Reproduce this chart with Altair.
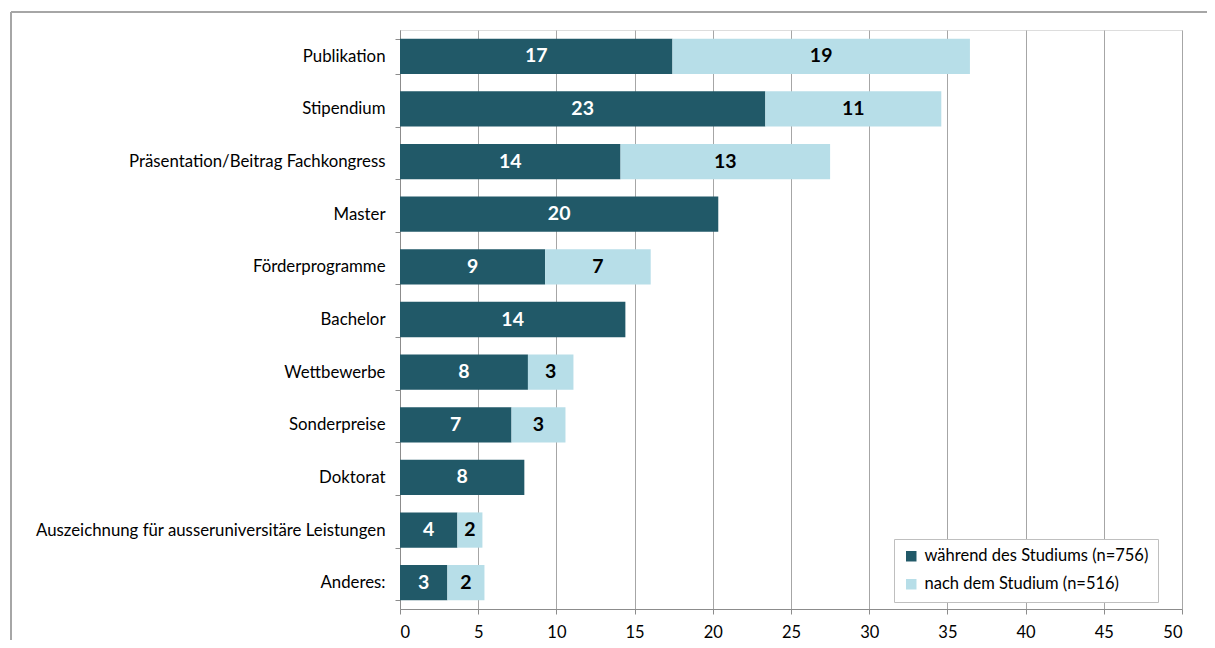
import altair as alt
import pandas as pd

categories = [
    "Publikation",
    "Stipendium",
    "Präsentation/Beitrag Fachkongress",
    "Master",
    "Förderprogramme",
    "Bachelor",
    "Wettbewerbe",
    "Sonderpreise",
    "Doktorat",
    "Auszeichnung für ausseruniversitäre Leistungen",
    "Anderes:",
]
during = [17.42, 23.36, 14.10, 20.35, 9.28, 14.41, 8.18, 7.13, 7.95, 3.67, 3.03]
after = [19.02, 11.25, 13.40, 0.0, 6.75, 0.0, 2.91, 3.45, 0.0, 1.60, 2.37]
series = ["während des Studiums (n=756)", "nach dem Studium (n=516)"]
colors = ["#215968", "#B7DEE8"]
text_colors = ["#ffffff", "#000000"]

rows = []
for c, d, a in zip(categories, during, after):
    for i, (s, v) in enumerate(zip(series, [d, a])):
        if v > 0:
            rows.append({"category": c, "series": s, "value": v, "order": i,
                         "label": str(int(round(v))), "tc": text_colors[i]})
df = pd.DataFrame(rows)

FONT = "Lato"

base = alt.Chart(df).transform_stack(
    stack="value", as_=["x0", "x1"], groupby=["category"],
    sort=[alt.SortField("order", order="ascending")]
).transform_calculate(mid="(datum.x0 + datum.x1) / 2")

yenc = alt.Y(
    "category:N", sort=categories, title=None,
    scale=alt.Scale(paddingInner=0.33, paddingOuter=0.165),
    axis=alt.Axis(tickBand="extent", labelFontSize=16.8, labelFont=FONT,
                  labelColor="#000000", labelPadding=10, tickSize=5,
                  tickColor="#8c8c8c", domainColor="#8c8c8c", labelLimit=500),
)

bars = base.mark_bar().encode(
    x=alt.X("x0:Q", title=None,
            scale=alt.Scale(domain=[0, 50], nice=False, zero=True),
            axis=alt.Axis(values=list(range(0, 55, 5)), grid=True, gridColor="#a6a6a6",
                          gridWidth=1, tickSize=5, tickColor="#8c8c8c",
                          domainColor="#8c8c8c", labelFontSize=16.5, labelFont=FONT,
                          labelColor="#000000", labelPadding=10)),
    x2="x1:Q",
    y=yenc,
    color=alt.Color("series:N", sort=series,
                    scale=alt.Scale(domain=series, range=colors),
                    legend=alt.Legend(title=None, orient="none", legendX=494, legendY=509,
                                      symbolType="square", symbolSize=110,
                                      symbolStrokeWidth=0, labelFontSize=16.5,
                                      labelFont=FONT, labelColor="#000000",
                                      rowPadding=11, padding=9, labelLimit=400,
                                      strokeColor="#bfbfbf", fillColor="#ffffff",
                                      labelOffset=5)),
    order=alt.Order("order:Q"),
)

texts = base.mark_text(fontSize=19.5, fontWeight="bold", font=FONT, baseline="middle").encode(
    x=alt.X("mid:Q"),
    y=alt.Y("category:N", sort=categories),
    text="label:N",
    color=alt.Color("tc:N", scale=None),
)

frame_left = alt.Chart(pd.DataFrame({"a": [0]})).mark_rule(color="#a6a6a6", strokeWidth=2).encode(
    x=alt.value(-389), y=alt.value(-18), y2=alt.value(640)
)
frame_top = alt.Chart(pd.DataFrame({"a": [0]})).mark_rule(color="#a6a6a6", strokeWidth=2).encode(
    x=alt.value(-389), x2=alt.value(830), y=alt.value(-18)
)

chart = alt.layer(bars, texts, frame_left, frame_top).properties(
    width=782, height=579,
    autosize=alt.AutoSizeParams(type="none"),
    padding={"left": 392, "top": 22, "right": 25, "bottom": 31},
).configure_view(stroke=None).configure(background="#ffffff")

chart.save("out.html", embed_options={"renderer": "svg", "actions": False})
